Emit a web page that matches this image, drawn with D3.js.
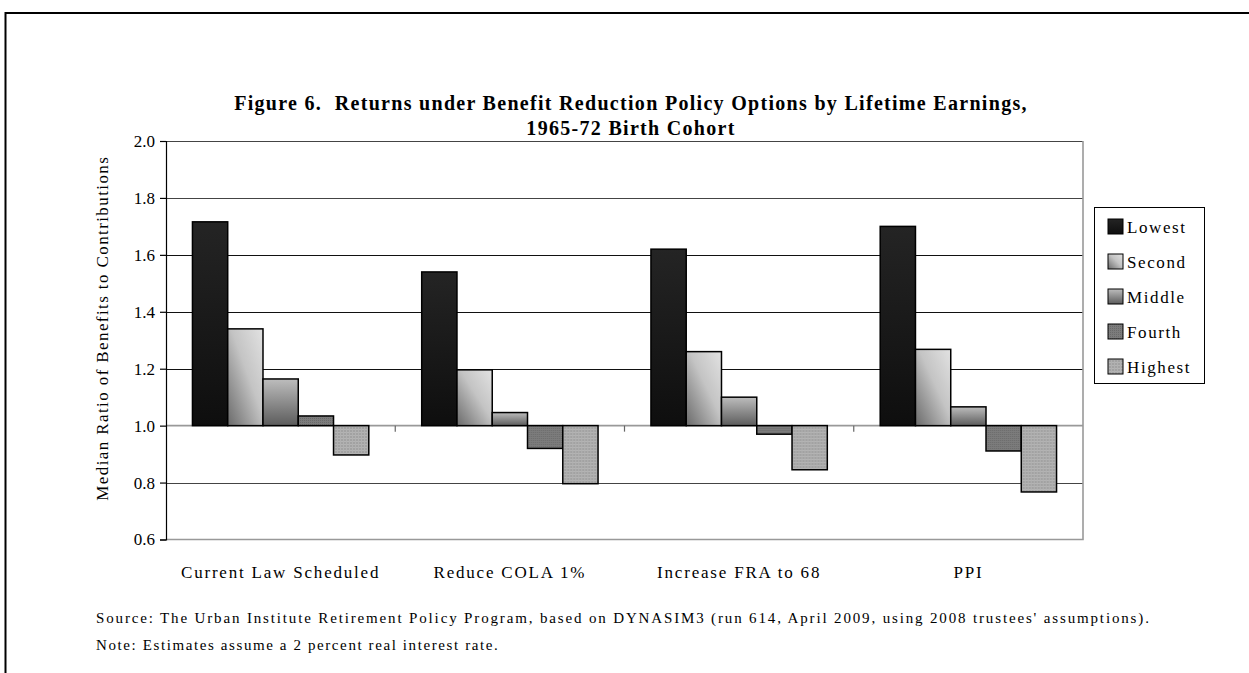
<!DOCTYPE html>
<html>
<head>
<meta charset="utf-8">
<script src="https://cdn.jsdelivr.net/npm/d3@7/dist/d3.min.js"></script>
<style>
  html, body { margin: 0; padding: 0; background: #fff; }
  svg { display: block; }
  text { font-family: "Liberation Serif", "Times New Roman", serif; fill: #000; }
</style>
</head>
<body>
<svg id="chart" width="1249" height="673"></svg>
<script>
// Policy options along the category axis
const categories = ["Current Law Scheduled", "Reduce COLA 1%", "Increase FRA to 68", "PPI"];
// Lifetime earnings quintiles
const series = ["Lowest", "Second", "Middle", "Fourth", "Highest"];
// Median ratio of benefits to contributions, per quintile and policy option
const lowest  = [1.716, 1.540, 1.620, 1.700];
const second  = [1.340, 1.196, 1.260, 1.268];
const middle  = [1.164, 1.046, 1.100, 1.066];
const fourth  = [1.034, 0.920, 0.970, 0.911];
const highest = [0.897, 0.796, 0.845, 0.767];
const yTicks  = [0.6, 0.8, 1.0, 1.2, 1.4, 1.6, 1.8, 2.0];

const values = { Lowest: lowest, Second: second, Middle: middle, Fourth: fourth, Highest: highest };

const svg = d3.select("#chart");
const defs = svg.append("defs");

// Fills for each quintile
const gLow = defs.append("linearGradient").attr("id", "f-Lowest")
  .attr("x1", 0).attr("y1", 0).attr("x2", 0).attr("y2", 1);
gLow.append("stop").attr("offset", "0%").attr("stop-color", "#242424");
gLow.append("stop").attr("offset", "100%").attr("stop-color", "#0e0e0e");

const gSec = defs.append("linearGradient").attr("id", "f-Second")
  .attr("x1", 0).attr("y1", 1).attr("x2", 1).attr("y2", 0);
gSec.append("stop").attr("offset", "0%").attr("stop-color", "#6a6a6a");
gSec.append("stop").attr("offset", "55%").attr("stop-color", "#c4c4c4");
gSec.append("stop").attr("offset", "100%").attr("stop-color", "#e2e2e2");

const gMid = defs.append("linearGradient").attr("id", "f-Middle")
  .attr("x1", 0).attr("y1", 0).attr("x2", 0).attr("y2", 1);
gMid.append("stop").attr("offset", "0%").attr("stop-color", "#bdbdbd");
gMid.append("stop").attr("offset", "100%").attr("stop-color", "#5c5c5c");

const pFour = defs.append("pattern").attr("id", "f-Fourth")
  .attr("patternUnits", "userSpaceOnUse").attr("width", 2).attr("height", 2);
pFour.append("rect").attr("width", 2).attr("height", 2).attr("fill", "#7c7c7c");
pFour.append("rect").attr("width", 1).attr("height", 1).attr("fill", "#6a6a6a");

const pHigh = defs.append("pattern").attr("id", "f-Highest")
  .attr("patternUnits", "userSpaceOnUse").attr("width", 3).attr("height", 3);
pHigh.append("rect").attr("width", 3).attr("height", 3).attr("fill", "#a2a2a2");
pHigh.append("rect").attr("width", 3).attr("height", 1).attr("fill", "#b4b4b4");
pHigh.append("rect").attr("width", 1).attr("height", 3).attr("fill", "#b0b0b0");

// Outer frame of the figure
svg.append("rect")
  .attr("x", 5.5).attr("y", 13).attr("width", 1300).attr("height", 700)
  .attr("fill", "none").attr("stroke", "#000").attr("stroke-width", 2);

// Title (double space after the figure number is kept)
const title = svg.append("text")
  .attr("text-anchor", "middle")
  .style("white-space", "pre")
  .style("font-weight", "bold").style("font-size", "20px").style("letter-spacing", "1.3px");
title.append("tspan").attr("x", 631).attr("y", 110)
  .text("Figure 6.  Returns under Benefit Reduction Policy Options by Lifetime Earnings,");
title.append("tspan").attr("x", 631).attr("y", 135)
  .text("1965-72 Birth Cohort");

// Scales
const plotL = 166, plotR = 1083, plotT = 141, plotB = 539.5;
const x0 = d3.scaleBand().domain(categories).range([plotL, plotR]).padding(0);
const x1 = d3.scaleBand().domain(series).range([0, x0.bandwidth()])
  .paddingInner(0).paddingOuter(0.75);
const y = d3.scaleLinear().domain([0.6, 2.0]).range([plotB, plotT]);

// Horizontal gridlines
svg.append("g").selectAll("line")
  .data(yTicks.filter(t => t !== 0.6 && t !== 1.0))
  .join("line")
  .attr("x1", plotL).attr("x2", plotR)
  .attr("y1", d => Math.round(y(d)) + 0.5).attr("y2", d => Math.round(y(d)) + 0.5)
  .attr("stroke", d => (d === 0.8 || d === 2.0 || d === 1.8) ? "#444" : "#111")
  .attr("stroke-width", 1.2);

// Plot area border (bottom and right)
svg.append("path")
  .attr("d", `M${plotL},${plotB}H${plotR}V${plotT}`)
  .attr("fill", "none").attr("stroke", "#999").attr("stroke-width", 1.6);

// Category axis crossing at 1.0
const base = y(1.0);
const xAxis = svg.append("g").attr("transform", `translate(0,${base})`);
xAxis.append("line").attr("x1", plotL).attr("x2", plotR)
  .attr("stroke", "#999").attr("stroke-width", 1.6);
xAxis.selectAll("line.tick")
  .data(categories.slice(1))
  .join("line").attr("class", "tick")
  .attr("x1", d => x0(d)).attr("x2", d => x0(d))
  .attr("y1", 0).attr("y2", 6)
  .attr("stroke", "#666").attr("stroke-width", 1.2);

// Bars, drawn from the 1.0 baseline
const groups = svg.append("g").selectAll("g")
  .data(categories)
  .join("g")
  .attr("transform", d => `translate(${x0(d)},0)`);

groups.selectAll("rect")
  .data((c, ci) => series.map(s => ({ s, v: values[s][ci] })))
  .join("rect")
  .attr("x", d => x1(d.s))
  .attr("width", x1.bandwidth())
  .attr("y", d => Math.min(y(d.v), base))
  .attr("height", d => Math.abs(y(d.v) - base))
  .attr("fill", d => `url(#f-${d.s})`)
  .attr("stroke", "#000").attr("stroke-width", 1.5);

// Value axis
const yAxis = svg.append("g").attr("transform", `translate(${plotL},0)`)
  .call(d3.axisLeft(y).tickValues(yTicks).tickFormat(d3.format(".1f"))
    .tickSize(6).tickPadding(5));
yAxis.select(".domain").attr("stroke", "#000").attr("stroke-width", 1.2);
yAxis.selectAll(".tick line").attr("stroke", "#000").attr("stroke-width", 1.2);
yAxis.selectAll(".tick text")
  .style("font-family", "'Liberation Serif', 'Times New Roman', serif")
  .style("font-size", "17px").attr("fill", "#000");

// Value axis title
svg.append("text")
  .attr("transform", `translate(108,${(plotT + plotB) / 2 - 12}) rotate(-90)`)
  .attr("text-anchor", "middle").style("font-size", "17px").style("letter-spacing", "1.4px")
  .text("Median Ratio of Benefits to Contributions");

// Category labels
svg.append("g").selectAll("text")
  .data(categories)
  .join("text")
  .attr("x", d => x0(d) + x0.bandwidth() / 2)
  .attr("y", 578)
  .attr("text-anchor", "middle").style("font-size", "17px").style("letter-spacing", "1.8px")
  .text(d => d);

// Legend
const lg = svg.append("g");
lg.append("rect").attr("x", 1094.5).attr("y", 207.5).attr("width", 110).attr("height", 176)
  .attr("fill", "#fff").attr("stroke", "#000").attr("stroke-width", 1);
const item = lg.selectAll("g.item").data(series).join("g").attr("class", "item")
  .attr("transform", (d, i) => `translate(1108,${219 + i * 35})`);
item.append("rect").attr("width", 15).attr("height", 15)
  .attr("fill", d => `url(#f-${d})`).attr("stroke", "#000").attr("stroke-width", 1);
item.append("text").attr("x", 19).attr("y", 14)
  .style("font-size", "17px").style("letter-spacing", "1.6px").text(d => d);

// Source and note
const foot = svg.append("g").style("font-size", "15px");
foot.append("text").attr("x", 96).attr("y", 623).style("letter-spacing", "1.85px")
  .text("Source: The Urban Institute Retirement Policy Program, based on DYNASIM3 (run 614, April 2009, using 2008 trustees' assumptions).");
foot.append("text").attr("x", 96).attr("y", 650).style("letter-spacing", "1.6px")
  .text("Note: Estimates assume a 2 percent real interest rate.");
</script>
</body>
</html>
